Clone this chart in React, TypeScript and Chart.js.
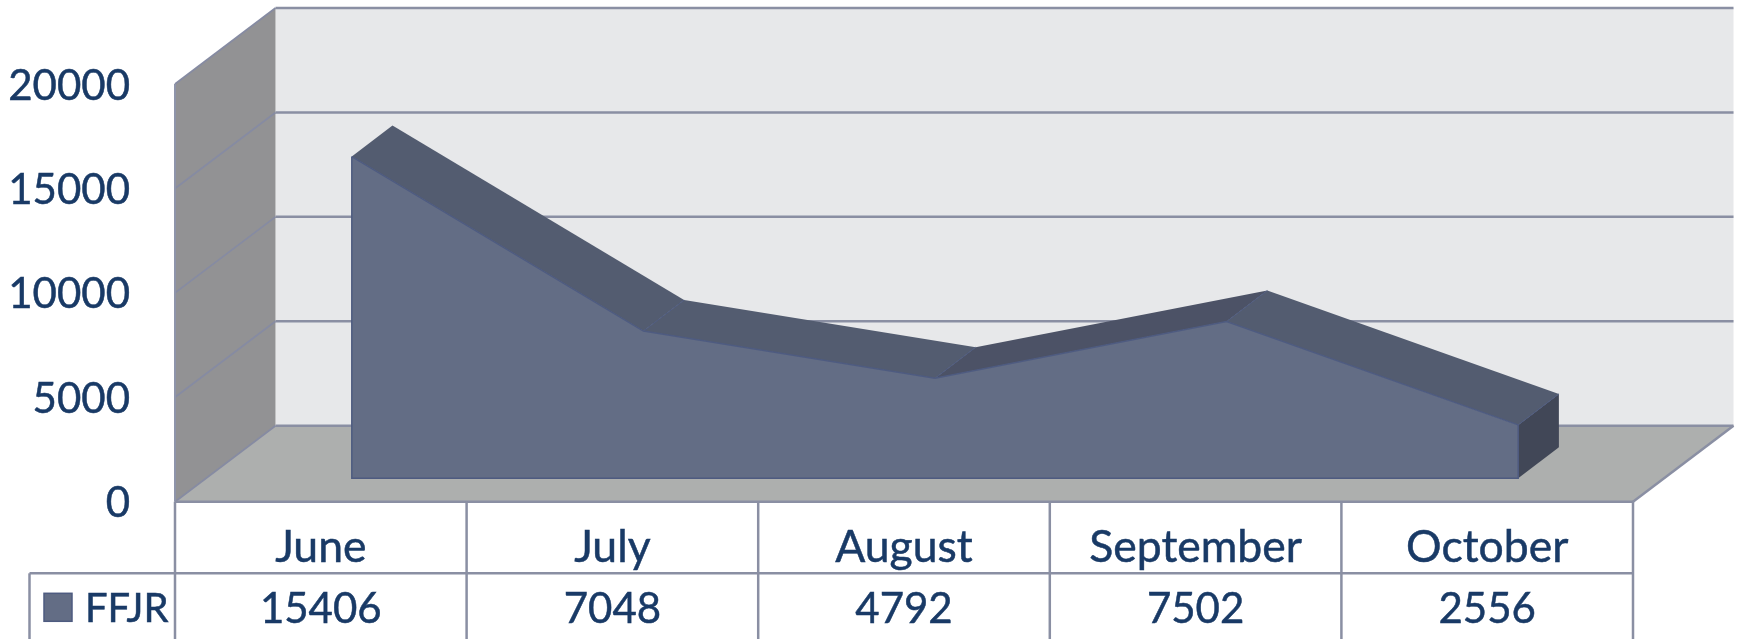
import React, { useEffect, useRef } from "react";
import { Chart, registerables } from "chart.js";

Chart.register(...registerables);

const months = ["June", "July", "August", "September", "October"];
const seriesName = "FFJR";
const ffjrValues = [15406, 7048, 4792, 7502, 2556];
const yMax = 20000;
const yStep = 5000;

const FONT = "Lato";
const TEXT = "#193A66";
const RULE = "#8A8FA3";
const WALL_DX = 100.5, WALL_DY = -76;
const FRONT_DX = 31, FRONT_DY = -23.4;
const DEPTH_DX = 40.7, DEPTH_DY = -31;
const AREA = "#636D85", EDGE = "#4E5B80", TOP = "#535C70", TOP_DARK = "#4C5266", CAP = "#414757";

const poly = (ctx: any, pts: number[][], fill?: string, stroke?: string, lw = 1) => {
  ctx.beginPath();
  pts.forEach((p, i) => (i ? ctx.lineTo(p[0], p[1]) : ctx.moveTo(p[0], p[1])));
  ctx.closePath();
  if (fill) { ctx.fillStyle = fill; ctx.fill(); }
  if (stroke) { ctx.strokeStyle = stroke; ctx.lineWidth = lw; ctx.stroke(); }
};
const line = (ctx: any, a: number[], b: number[], color: string, lw: number) => {
  ctx.beginPath();
  ctx.moveTo(a[0], a[1]);
  ctx.lineTo(b[0], b[1]);
  ctx.strokeStyle = color;
  ctx.lineWidth = lw;
  ctx.stroke();
};
const label = (ctx: any, s: string, x: number, y: number) => {
  ctx.fillText(s, x, y);
  ctx.strokeText(s, x, y);
};

const scene3d = {
  id: "scene3d",
  beforeDatasetsDraw(chart: any) {
    const { ctx, chartArea: ca, scales } = chart;
    const { x, y } = scales;
    const L = ca.left, R = ca.right, T = ca.top, B = ca.bottom;
    ctx.save();
    // back wall, floor, side wall
    poly(ctx, [[L + WALL_DX, T + WALL_DY], [R + WALL_DX, T + WALL_DY], [R + WALL_DX, B + WALL_DY], [L + WALL_DX, B + WALL_DY]], "#E7E8EA");
    poly(ctx, [[L, B], [R, B], [R + WALL_DX, B + WALL_DY], [L + WALL_DX, B + WALL_DY]], "#ADAFAE");
    poly(ctx, [[L, T], [L + WALL_DX, T + WALL_DY], [L + WALL_DX, B + WALL_DY], [L, B]], "#929294");
    // gridlines from the value scale
    y.ticks.forEach((t: any) => {
      const py = y.getPixelForValue(t.value);
      line(ctx, [L, py], [L + WALL_DX, py + WALL_DY], "#868BA2", 1.8);
      line(ctx, [L + WALL_DX, py + WALL_DY], [R + WALL_DX, py + WALL_DY], RULE, 2.5);
    });
    line(ctx, [L, T], [L, B], "#8E94AA", 2);
    line(ctx, [R, B], [R + WALL_DX, B + WALL_DY], RULE, 2.5);
    // extruded top of the area
    const pts = ffjrValues.map((v, i) => [x.getPixelForValue(i) + FRONT_DX, y.getPixelForValue(v) + FRONT_DY]);
    const base = y.getPixelForValue(0) + FRONT_DY;
    const lastPt = pts[pts.length - 1];
    poly(ctx, [
      [lastPt[0], lastPt[1]],
      [lastPt[0] + DEPTH_DX, lastPt[1] + DEPTH_DY],
      [lastPt[0] + DEPTH_DX, base + DEPTH_DY],
      [lastPt[0], base],
    ], CAP);
    for (let i = 0; i < pts.length - 1; i++) {
      const a = pts[i], b = pts[i + 1];
      poly(ctx, [a, b, [b[0] + DEPTH_DX, b[1] + DEPTH_DY], [a[0] + DEPTH_DX, a[1] + DEPTH_DY]], b[1] < a[1] ? TOP_DARK : TOP);
    }
    for (let i = 1; i < pts.length; i++) {
      line(ctx, pts[i], [pts[i][0] + DEPTH_DX, pts[i][1] + DEPTH_DY], EDGE, 1);
    }
    ctx.restore();
    ctx.save();
    ctx.translate(FRONT_DX, FRONT_DY);
  },
  afterDatasetsDraw(chart: any) {
    const { ctx, chartArea: ca, scales, data } = chart;
    const { x, y } = scales;
    const B = ca.bottom, L = ca.left, R = ca.right, H = chart.height;
    // front-face outline, still in the shifted frame
    const first = [x.getPixelForValue(0), y.getPixelForValue(ffjrValues[0])];
    const lastI = ffjrValues.length - 1;
    const last = [x.getPixelForValue(lastI), y.getPixelForValue(ffjrValues[lastI])];
    const z = y.getPixelForValue(0);
    ctx.beginPath();
    ctx.moveTo(first[0], first[1]);
    ctx.lineTo(first[0], z);
    ctx.lineTo(last[0], z);
    ctx.lineTo(last[0], last[1]);
    ctx.strokeStyle = EDGE;
    ctx.lineWidth = 1.5;
    ctx.stroke();
    ctx.restore();

    // data table
    ctx.save();
    const rowY = B + 71.6;
    const colW = (R - L) / months.length;
    line(ctx, [L, B], [R, B], RULE, 2.5);
    line(ctx, [29.5, rowY], [R, rowY], RULE, 2.5);
    line(ctx, [29.5, rowY], [29.5, H], RULE, 2.5);
    for (let i = 0; i <= months.length; i++) {
      line(ctx, [L + colW * i, B], [L + colW * i, H], RULE, 2.5);
    }
    ctx.font = `42px ${FONT}`;
    ctx.fillStyle = TEXT;
    ctx.strokeStyle = TEXT;
    ctx.lineWidth = 0.5;
    ctx.textAlign = "center";
    ctx.textBaseline = "middle";
    const textY = rowY + 36;
    data.datasets[0].data.forEach((v: number, i: number) => {
      label(ctx, String(v), x.getPixelForValue(i), textY);
    });
    // legend key
    ctx.fillStyle = AREA;
    ctx.strokeStyle = EDGE;
    ctx.lineWidth = 1.5;
    ctx.fillRect(44, rowY + 20, 28, 28);
    ctx.strokeRect(44, rowY + 20, 28, 28);
    ctx.fillStyle = TEXT;
    ctx.strokeStyle = TEXT;
    ctx.lineWidth = 0.5;
    ctx.textAlign = "left";
    ctx.font = `40px ${FONT}`;
    label(ctx, data.datasets[0].label, 85, textY);
    ctx.restore();
  },
};

export default function App() {
  const ref = useRef<HTMLCanvasElement | null>(null);
  useEffect(() => {
    const chart = new Chart(ref.current as HTMLCanvasElement, {
      type: "line",
      data: {
        labels: months,
        datasets: [
          {
            label: seriesName,
            data: ffjrValues,
            fill: "origin",
            backgroundColor: AREA,
            borderColor: EDGE,
            borderWidth: 1.5,
            pointRadius: 0,
            tension: 0,
            clip: false,
          },
        ],
      } as any,
      options: {
        responsive: false,
        animation: false,
        layout: { autoPadding: false, padding: { left: 0, right: 107, top: 84, bottom: 0 } },
        plugins: { legend: { display: false }, tooltip: { enabled: false }, title: { display: false } },
        scales: {
          x: {
            offset: true,
            afterFit: (s: any) => { s.height = 137.3; },
            grid: { display: false, drawTicks: false },
            border: { display: false },
            ticks: {
              font: { family: FONT, size: 44.5 }, color: TEXT, padding: 19, maxRotation: 0, autoSkip: false,
              textStrokeColor: TEXT, textStrokeWidth: 0.5,
            },
          },
          y: {
            min: 0,
            max: yMax,
            afterFit: (s: any) => { s.width = 175; },
            grid: { display: false, drawTicks: false },
            border: { display: false },
            ticks: {
              stepSize: yStep, font: { family: FONT, size: 42 }, color: TEXT, padding: 45, labelOffset: 2,
              textStrokeColor: TEXT, textStrokeWidth: 0.5,
              callback: (v: any) => String(v),
            },
          },
        },
      } as any,
      plugins: [scene3d],
    });
    return () => chart.destroy();
  }, []);
  return (
    <div style={{ position: "fixed", left: 0, top: 0, width: 1740, height: 639, overflow: "hidden", background: "#fff" }}>
      <canvas ref={ref} width={1740} height={639} style={{ display: "block" }} />
    </div>
  );
}
